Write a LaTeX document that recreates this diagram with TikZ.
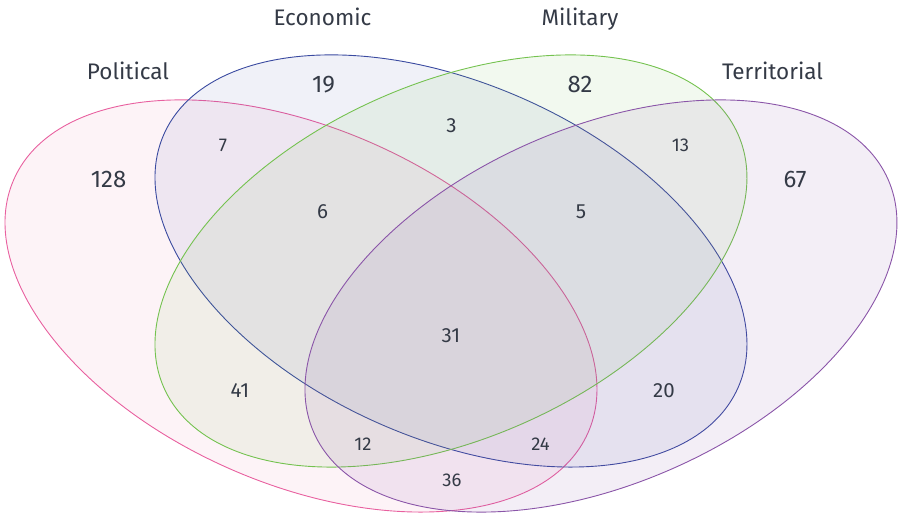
\documentclass[tikz,border=0pt]{standalone}
\usepackage{fontspec}
\setmainfont{Fira Sans}
\usepackage{tikz}
\usetikzlibrary{positioning, calc}

\definecolor{polpink}{RGB}{232,96,159}
\definecolor{ecoblue}{RGB}{58,74,160}
\definecolor{milgreen}{RGB}{116,194,79}
\definecolor{terpurple}{RGB}{138,85,168}
\definecolor{labelgray}{RGB}{52,58,70}

\begin{document}
\begin{tikzpicture}[x=1pt, y=-1pt,
		set/.style={line width=0.9pt},
		setname/.style={anchor=base, inner sep=0pt, text=labelgray, font=\fontsize{22.5}{26}\selectfont},
		bignum/.style={anchor=base, inner sep=0pt, text=labelgray, font=\fontsize{24}{28}\selectfont},
		midnum/.style={anchor=base, inner sep=0pt, text=labelgray, font=\fontsize{20.5}{24}\selectfont},
		smallnum/.style={anchor=base, inner sep=0pt, text=labelgray, font=\fontsize{18.5}{22}\selectfont}]
					\useasboundingbox (0, 0) rectangle (900, 513);
					\def\ra{313.8}
					\def\rb{177.7}
					\def\tilt{23.8}

					\coordinate (pol c) at (301, 306);
					\coordinate (eco c) at (451, 261);
					\coordinate (mil c) at (451, 261);
					\coordinate (ter c) at (601, 306);

					\draw [set, draw=polpink, fill=polpink, fill opacity=0.08, rotate around={-\tilt:(pol c)}] (pol c) ellipse [x radius=\ra, y radius=\rb];
					\draw [set, draw=ecoblue, fill=ecoblue, fill opacity=0.08, rotate around={-\tilt:(eco c)}] (eco c) ellipse [x radius=\ra, y radius=\rb];
					\draw [set, draw=milgreen, fill=milgreen, fill opacity=0.09, rotate around={\tilt:(mil c)}] (mil c) ellipse [x radius=\ra, y radius=\rb];
					\draw [set, draw=terpurple, fill=terpurple, fill opacity=0.1, rotate around={\tilt:(ter c)}] (ter c) ellipse [x radius=\ra, y radius=\rb];

					\node[setname] (political) at (128, 80) {Political};
					\node[setname] (economic) at (322.5, 26) {Economic};
					\node[setname] (military) at (580, 26) {Military};
					\node[setname] (territorial) at (772.5, 80) {Territorial};

					\node[bignum] (pol only) at (108.5, 188) {128};
					\node[bignum] (eco only) at (323.5, 92.5) {19};
					\node[bignum] (mil only) at (580, 92.5) {82};
					\node[bignum] (ter only) at (795, 188) {67};

					\node[midnum] (eco mil) at (451.5, 132.7) {3};
					\node[midnum] (pol eco mil) at (322.5, 218.3) {6};
					\node[midnum] (eco mil ter) at (581, 218.3) {5};
					\node[midnum] (all four) at (451, 342.3) {31};
					\node[midnum] (pol mil) at (240, 397.3) {41};
					\node[midnum] (eco ter) at (664, 397.3) {20};

					\node[smallnum] (pol eco) at (223, 151.7) {7};
					\node[smallnum] (mil ter) at (680.5, 151.7) {13};
					\node[smallnum] (pol mil ter) at (363, 450.5) {12};
					\node[smallnum] (pol eco ter) at (540.5, 450.5) {24};
					\node[smallnum] (pol ter) at (452, 486) {36};
				\end{tikzpicture}
\end{document}
